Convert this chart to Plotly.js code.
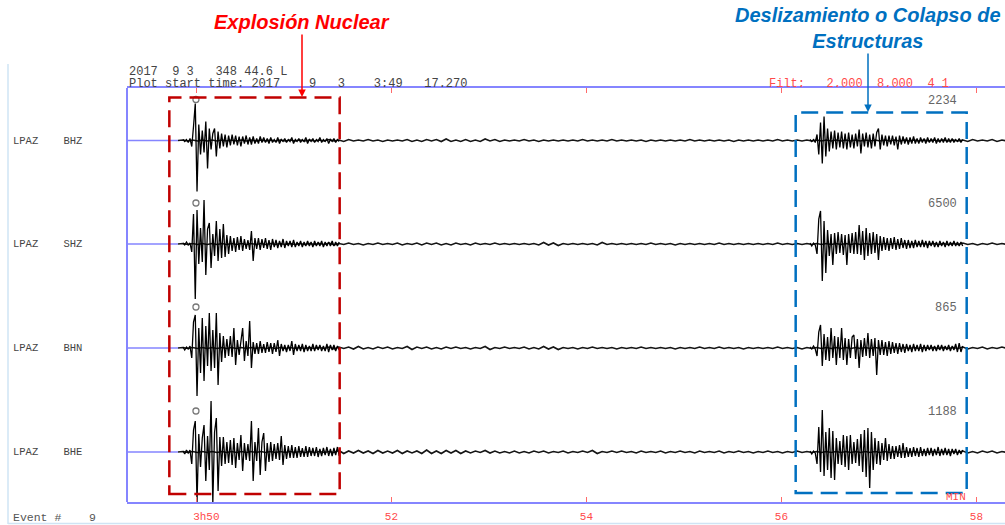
<!DOCTYPE html>
<html><head><meta charset="utf-8">
<script src="https://cdn.plot.ly/plotly-3.0.1.min.js"></script>
<style>html,body{margin:0;padding:0;background:#fff;}#chart{width:1005px;height:525px;}</style>
</head><body><div id="chart"></div>
<script>
// ---------- DATA ----------
const channels = ['LPAZ    BHZ', 'LPAZ    SHZ', 'LPAZ    BHN', 'LPAZ    BHE'];
const maxCounts = ['2234', '6500', '865', '1188'];
const tickMinutes = [50, 52, 54, 56, 58];
const tickLabels = ['\u00a0\u00a0\u00a03h50', '52', '54', '56', '58'];
const plotStart = 49.2878;      // 3h49m17.27s, in minutes after 3h
const plotEnd = 58.2929;
const traceStart = 49.811;      // first sample of the records
const noiseDt = 0.05;           // minutes per sample (background record)
const eventDt = 0.018;          // minutes per sample (event windows)
const explosionStart = 49.862;
const landslideStart = 56.293;
const pickTime = 49.995;
const pickLevel = 41;
const explosionBox = [49.722, 51.469];
const landslideBox = [56.146, 57.900];

const bhzNoise = [0,0.5,-0.5,0.5,-0.5,0.5,-0.5,0.5,-0.5,0.5, -0.5,0.5,-0.5,0.5,-0.5,0.5,-0.5,0.5,-0.5,0.5,
 -0.5,0.5,-0.5,0.5,-0.5,0.5,-0.5,0.5,-0.5,0.5, -0.5,1,-0.5,0.5,-1,1,-0.5,0.5,-0.5,1,
 -0.5,0.5,-1,0.5,-0.5,0.5,-0.5,1,-1,0.5, -1,1,-0.5,1,-1,1.5,-1,0.5,-1,1,
 -1,0.5,-1,1.5,-0.5,1,-1,0.5,-0.5,0.5, -0.5,1,-0.5,0.5,-1,0.5,-0.5,0.5,-0.5,0.5,
 -0.5,0.5,-0.5,1,-0.5,0.5,-0.5,0.5,-0.5,1, -0.5,0.5,-0.5,0.5,-0.5,0.5,-1,0.5,-0.5,0.5,
 -0.5,0.5,-0.5,0.5,-0.5,1,-0.5,0.5,-0.5,0.5, -0.5,0.5,-0.5,0.5,-1,0.5,-0.5,0.5,-0.5,0.5,
 -0.5,0.5,-0.5,1,-0.5,0.5,-0.5,0.5,-0.5,0.5, -0.5,0.5,-0.5,0.5,-0.5,0.5,-0.5,0.5,-0.5,0.5,
 -0.5,0.5,-0.5,0.5,-0.5,0.5,-0.5,0.5,-0.5,0.5, -0.5,0.5,-0.5,0.5,-0.5,0.5,-0.5,0.5,-0.5,0.5,
 -0.5,0.5,-1,1,-0.5,0.5,-0.5,1,-1,0.5,-0.5];
const shzNoise = [0,0.5,-0.5,0.5,-0.5,0.5,-0.5,0.5,-0.5,0.5, -0.5,0.5,-0.5,0.5,-0.5,0.5,-0.5,0.5,-0.5,0.5,
 -0.5,0.5,-0.5,0.5,-0.5,0.5,-0.5,0.5,-0.5,0.5, -0.5,1,-1,0.5,-0.5,1,-0.5,0.5,-1,0.5,
 -0.5,1,-0.5,0.5,-0.5,1,-1,0.5,-0.5,1, -1,1,-0.5,1,-1,0.5,-1,1,-0.5,0.5,
 -1,1,-0.5,0.5,-0.5,1,-0.5,0.5,-0.5,0.5, -0.5,0.5,-0.5,0.5,-1,1.5,-1,1,-1.5,0.5,
 -0.5,0.5,-0.5,0.5,-0.5,0.5,-1,1.5,-0.5,0.5, -0.5,0.5,-0.5,0.5,-0.5,0.5,-0.5,1,-0.5,0.5,
 -0.5,0.5,-1,0.5,-0.5,0.5,-0.5,0.5,-0.5,0.5, -0.5,1,-0.5,0.5,-0.5,0.5,-0.5,0.5,-0.5,0.5,
 -0.5,0.5,-0.5,1,-0.5,0.5,-0.5,0.5,-0.5,0.5, -0.5,0.5,-0.5,0.5,-0.5,0.5,-0.5,0.5,-0.5,0.5,
 -0.5,0.5,-0.5,0.5,-0.5,0.5,-0.5,0.5,-0.5,0.5, -0.5,0.5,-0.5,0.5,-0.5,0.5,-0.5,0.5,-0.5,0.5,
 -0.5,1,-0.5,0.5,-1,0.5,-0.5,1,-0.5,0.5,-0.5];
const bhnNoise = [0,0.5,-0.5,0.5,-0.5,0.5,-0.5,0.5,-0.5,0.5, -0.5,0.5,-0.5,0.5,-0.5,0.5,-0.5,0.5,-0.5,0.5,
 -0.5,0.5,-0.5,0.5,-0.5,0.5,-0.5,0.5,-0.5,0.5, -0.5,1,-1,1,-0.5,1,-1,1.5,-1,0.5,
 -1,1,-0.5,1,-1,0.5,-0.5,1.5,-1.5,1, -0.5,1,-1,0.5,-1,1,-0.5,1,-0.5,0.5,
 -1,0.5,-0.5,1.5,-1.5,0.5,-0.5,1,-0.5,0.5, -0.5,1,-1,0.5,-1,1.5,-1,1,-1.5,0.5,
 -0.5,0.5,-1,0.5,-0.5,1,-0.5,0.5,-0.5,0.5, -1,0.5,-0.5,0.5,-0.5,1,-0.5,0.5,-0.5,0.5,
 -0.5,0.5,-1,0.5,-0.5,0.5,-0.5,1,-0.5,0.5, -0.5,1,-0.5,0.5,-0.5,0.5,-1,0.5,-0.5,0.5,
 -0.5,0.5,-0.5,1,-0.5,0.5,-0.5,0.5,-1,0.5, -0.5,0.5,-0.5,0.5,-0.5,0.5,-0.5,0.5,-0.5,0.5,
 -0.5,0.5,-0.5,0.5,-0.5,0.5,-0.5,0.5,-0.5,0.5, -0.5,0.5,-0.5,0.5,-0.5,0.5,-0.5,0.5,-0.5,0.5,
 -0.5,1,-1,0.5,-0.5,1,-1,0.5,-0.5,1,-0.5];
const bheNoise = [0,0.5,-0.5,0.5,-0.5,0.5,-0.5,0.5,-0.5,0.5, -0.5,0.5,-0.5,0.5,-0.5,0.5,-0.5,0.5,-0.5,0.5,
 -0.5,0.5,-0.5,0.5,-0.5,0.5,-0.5,0.5,-0.5,0.5, -0.5,0.5,-0.5,1.5,-1.5,1,-1,1.5,-1,1,
 -1.5,1.5,-1,1,-1,1.5,-1.5,1,-1,1, -1.5,2,-1.5,1,-1.5,1.5,-1,1.5,-1.5,1,
 -1,1,-0.5,1.5,-1,1,-1,0.5,-1,1, -1,0.5,-1,1,-0.5,1,-1,0.5,-0.5,1,
 -1,0.5,-0.5,1,-0.5,1.5,-1.5,0.5,-0.5,1, -0.5,1,-0.5,0.5,-1,1,-0.5,0.5,-0.5,1,
 -1,0.5,-0.5,1,-0.5,0.5,-1,1,-0.5,0.5, -0.5,1,-1,0.5,-0.5,1,-0.5,0.5,-1,0.5,
 -0.5,1,-0.5,0.5,-1,0.5,-0.5,1,-0.5,0.5, -0.5,0.5,-0.5,0.5,-0.5,0.5,-0.5,0.5,-0.5,0.5,
 -0.5,0.5,-0.5,0.5,-0.5,0.5,-0.5,0.5,-0.5,0.5, -0.5,0.5,-0.5,0.5,-0.5,0.5,-0.5,0.5,-0.5,0.5,
 -0.5,1,-1,0.5,-1,1,-0.5,1,-1,0.5,-0.5];

const bhzExplosion = [1,-1,1,-2,2,-6,14,37,-51,16, -14,10,-12,19,-28,12,-9,7,12,-16,
 9,-8,7,-6,6,-7,5,-5,6,-4, 5,-5,4,-6,4,-3,5,-4,3,-4, 4,-3,2,-3,4,-2,3,-2,2,-3,
 3,-2,1,-2,3,-3,1,-1,2,-2, 1,-1,3,-3,1,-1,2,-2,1,-1, 3,-3,1,-1,2,-2,1,-1,3,-2,
 1,-1,2,-3,1,-1,2,-2,1,-1];
const shzExplosion = [1,-1,2,-1,1,-8,30,-55,34,-20, 16,-18,44,-31,15,21,-24,10,-12,23,
 -17,15,-14,20,-13,9,-10,8,-7,6, -8,7,-6,8,-7,5,-5,4,-6,13, -17,6,-5,6,-6,5,-4,6,-5,4,
 -6,5,-3,4,-4,3,-3,5,-4,3, -2,3,-3,4,-3,2,-2,3,-3,2, -2,3,-2,2,-3,3,-2,2,-2,3,
 -3,2,-2,2,-2,3,-2,2,-2,2];
const bhnExplosion = [1,-2,1,-1,2,-10,26,33,-48,20, -25,30,-33,22,-18,35,-23,18,-20,35,
 -37,15,-14,12,-10,9,-8,12,-9,20, -17,8,-7,6,20,-13,7,-8,27,-20, 6,-6,5,-6,7,-5,4,-5,6,-4,
 5,-6,5,-4,8,-8,4,-3,3,-4, 3,-3,7,-7,4,-3,3,-3,4,-4, 3,-3,2,-3,4,-3,3,-2,3,-3,
 2,-3,4,-4,3,-2,3,-3,2,-2];
const bheExplosion = [1,-2,2,-1,2,-12,22,31,-50,18, -15,14,27,-29,16,-18,51,-51,20,34,
 -39,15,-14,15,-12,10,-11,12,-13,14, -16,9,-8,17,-19,9,-8,8,-9,31, -29,10,-9,24,-23,10,19,-19,9,-10,
 10,-9,8,-7,9,-8,16,-13,7,-7, 6,-6,7,-6,5,-6,6,-5,4,-5, 6,-5,5,-4,4,-4,5,-5,3,-4,
 4,-3,5,-4,3,-4,4,-3,5,-4];

const bhzLandslide = [1,-1,1,-2,6,-14,18,-23,24,-16, 12,-11,9,-8,10,-9,8,-7,9,-8,
 7,-9,8,-7,6,-8,7,-6,11,-13, 7,-6,8,-7,6,-8,7,-6,8,12, -9,6,-5,5,-6,5,-4,5,-5,4,
 -9,5,-4,4,-3,3,-4,3,-3,4, -3,2,-3,3,-2,2,-3,3,-2,2, -2,3,-3,2,-2,2,-2,3,-2,2,
 -2,2,-2,1,-1,2,-2,1];
const shzLandslide = [1,-2,1,-1,-10,25,33,-37,23,-29, 14,-12,10,-21,11,-10,12,-9,10,-11,
 9,-21,10,-9,11,-10,12,-10,19,-11, 13,-16,16,-12,11,-10,12,-9,10,-16, 8,-7,7,-6,6,-7,6,-5,7,-6,
 5,-5,6,-4,4,-5,4,-4,3,-4, 4,-3,3,-3,4,-3,3,-4,3,-2, 3,-3,2,-3,3,-2,2,-3,3,-2,
 2,-2,3,-2,2,-2,2,-2];
const bhnLandslide = [1,-1,2,-1,-8,16,23,-18,14,-12, 11,-13,20,-10,12,-17,11,-10,20,-12,
 10,-17,9,-10,11,13,-11,9,-20,8, -9,10,-8,15,-10,9,-8,10,-27,8, -7,8,-7,6,-8,7,-6,6,-5,5,
 -6,5,-4,4,-5,4,-3,3,-4,4, -3,3,-3,4,-4,3,-3,3,-2,3, -3,2,-3,3,-2,3,-3,2,-2,3,
 -3,2,-2,4,-4,5,-4,2];
const bheLandslide = [1,-2,1,-1,-12,25,-20,42,-24,20, -18,24,-26,21,-28,14,-12,11,-13,17,
 -15,16,-18,17,-12,10,-11,13,-14,18, -20,22,-25,24,-36,20,-18,14,-12,11, -13,9,-8,14,-9,8,-7,6,-7,6,
 -5,7,-6,9,-6,5,-5,4,-5,5, -4,4,-5,5,-4,3,-4,4,-3,4, -4,3,-3,5,-4,3,-3,4,-3,3,
 -4,3,-2,3,-3,2,-2,2];

const noiseSeries = [bhzNoise, shzNoise, bhnNoise, bheNoise];
const explosionSeries = [bhzExplosion, shzExplosion, bhnExplosion, bheExplosion];
const landslideSeries = [bhzLandslide, shzLandslide, bhnLandslide, bheLandslide];

// ---------- LAYOUT HELPERS ----------
const W = 1005, H = 525, ML = 127, MT = 88, MB = 23;
const PW = W - ML, PH = H - MT - MB;        // 878 x 414
const baselinePx = [140.5, 244, 348, 452];  // screen rows of the four records
const yNames = ['y', 'y2', 'y3', 'y4'];
const FRAME = '#8585ff';
const MONO = '"Liberation Mono", "Courier New", monospace';
const SANS = '"Liberation Sans", Arial, sans-serif';
const px2paperX = p => (p - ML) / PW;
const px2paperY = p => (H - MB - p) / PH;

const traces = [];
const layout = {
  width: W, height: H,
  margin: {l: ML, r: 0, t: MT, b: MB, pad: 0},
  paper_bgcolor: '#ffffff', plot_bgcolor: 'rgba(0,0,0,0)',
  showlegend: false,
  font: {family: MONO, size: 12, color: '#333'},
  xaxis: {
    range: [plotStart, plotEnd], anchor: 'y4', showgrid: false, zeroline: false,
    showline: true, linecolor: FRAME, linewidth: 2,
    ticks: 'inside', ticklen: 5, tickwidth: 1, tickcolor: '#ff6a6a',
    tickvals: tickMinutes, ticktext: tickLabels, ticklabelstandoff: 3,
    tickfont: {family: MONO, size: 11, color: '#ff4a4a'}
  },
  xaxis2: {
    range: [plotStart, plotEnd], overlaying: 'x', anchor: 'y', side: 'top',
    showgrid: false, zeroline: false, showline: true, linecolor: FRAME, linewidth: 2,
    ticks: 'inside', ticklen: 5, tickwidth: 1, tickcolor: '#ff6a6a',
    tickvals: tickMinutes, showticklabels: false
  },
  shapes: [], annotations: []
};

baselinePx.forEach((bp, k) => {
  const pb = H - MB - bp;
  const d0 = Math.max(0, pb - 72), d1 = Math.min(PH, pb + 72);
  const key = k === 0 ? 'yaxis' : 'yaxis' + (k + 1);
  layout[key] = {
    domain: [d0 / PH, d1 / PH], range: [d0 - pb, d1 - pb],
    showgrid: false, zeroline: false, showticklabels: false, showline: false, ticks: ''
  };
  const yn = yNames[k];
  traces.push({type: 'scatter', mode: 'lines', x: [plotStart, traceStart], y: [0, 0],
    xaxis: 'x', yaxis: yn, line: {color: FRAME, width: 1.5}, hoverinfo: 'skip'});
  traces.push({type: 'scatter', mode: 'lines', x0: traceStart, dx: noiseDt, y: noiseSeries[k],
    xaxis: 'x', yaxis: yn, line: {color: '#151515', width: 1.6}, hoverinfo: 'skip'});
  traces.push({type: 'scatter', mode: 'lines', x0: explosionStart, dx: eventDt, y: explosionSeries[k],
    xaxis: 'x', yaxis: yn, line: {color: '#000', width: 1.3}, hoverinfo: 'skip'});
  traces.push({type: 'scatter', mode: 'lines', x0: landslideStart, dx: eventDt, y: landslideSeries[k],
    xaxis: 'x', yaxis: yn, line: {color: '#000', width: 1.3}, hoverinfo: 'skip'});
  traces.push({type: 'scatter', mode: 'markers', x: [pickTime], y: [pickLevel],
    xaxis: k === 0 ? 'x2' : 'x', yaxis: yn, hoverinfo: 'skip',
    marker: {symbol: 'circle-open', size: 6, color: '#777', line: {width: 1.3, color: '#777'}}});
  layout.annotations.push({xref: 'paper', yref: yn, x: px2paperX(11), y: 0, xanchor: 'left', yanchor: 'middle',
    text: channels[k], showarrow: false, font: {family: MONO, size: 10.5, color: '#444'}});
  layout.annotations.push({xref: 'paper', yref: yn, x: px2paperX(959), y: 40, xanchor: 'right', yanchor: 'middle',
    text: maxCounts[k], showarrow: false, font: {family: MONO, size: 12, color: '#666'}});
});

layout.shapes.push({type: 'line', xref: 'paper', yref: 'paper', x0: 0, x1: 0, y0: 0, y1: 1,
  line: {color: FRAME, width: 2}});
layout.shapes.push({type: 'line', xref: 'paper', yref: 'paper', x0: px2paperX(8), x1: px2paperX(8),
  y0: px2paperY(524), y1: px2paperY(64), line: {color: '#cfe4f4', width: 1.5}});
layout.shapes.push({type: 'line', xref: 'paper', yref: 'paper', x0: px2paperX(8), x1: 1,
  y0: px2paperY(523.5), y1: px2paperY(523.5), line: {color: '#cfe4f4', width: 1.5}});
layout.shapes.push({type: 'rect', xref: 'x', yref: 'paper', x0: explosionBox[0], x1: explosionBox[1],
  y0: px2paperY(494), y1: px2paperY(97.5), line: {color: '#c00000', width: 2.5, dash: '17px,8px'}});
layout.shapes.push({type: 'rect', xref: 'x', yref: 'paper', x0: landslideBox[0], x1: landslideBox[1],
  y0: px2paperY(493), y1: px2paperY(112.5), line: {color: '#0070c0', width: 2.5, dash: '17px,8px'}});

const hdr = (x, y, text, color, size) => ({xref: 'paper', yref: 'paper', x: px2paperX(x), y: px2paperY(y),
  xanchor: 'left', yanchor: 'middle', showarrow: false, text: text,
  font: {family: MONO, size: size || 12, color: color}});
layout.annotations.push(hdr(127, 72, '2017  9 3   348 44.6 L', '#444'));
layout.annotations.push(hdr(127, 84, 'Plot start time: 2017    9   3    3:49   17.270', '#444'));
layout.annotations.push(hdr(767, 84, 'Filt:   2.000  8.000  4 1', '#ff4a4a'));
layout.annotations.push(hdr(944, 497, 'MIN', '#ff4a4a', 11));
layout.annotations.push(hdr(11, 517.5, 'Event #    9', '#555', 11.5));

const tipRed = px2paperY(97), tipBlue = px2paperY(112);
layout.annotations.push({xref: 'x', yref: 'paper', x: 51.0827, y: tipRed, ax: 0, ay: -75,
  text: '<b><i>Explosión Nuclear</i></b>', showarrow: true, arrowhead: 2, arrowsize: 1, arrowwidth: 1.5,
  arrowcolor: '#ff0000', standoff: 0, startstandoff: 0,
  font: {family: SANS, size: 20, color: '#ff0000'}});
layout.annotations.push({xref: 'x', yref: 'paper', x: 56.8878, y: tipBlue, ax: 0, ay: -84,
  text: '<b><i>Deslizamiento o Colapso de<br>Estructuras</i></b>', showarrow: true, arrowhead: 2,
  arrowsize: 1, arrowwidth: 1.5, arrowcolor: '#0070c0', standoff: 0, startstandoff: 0,
  font: {family: SANS, size: 20, color: '#0070c0'}});

Plotly.newPlot('chart', traces, layout, {displayModeBar: false, staticPlot: true});
</script>
</body></html>
